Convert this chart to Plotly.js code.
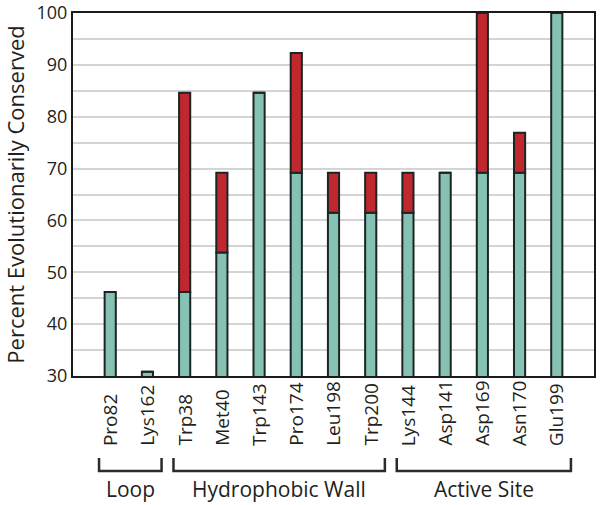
<!DOCTYPE html>
<html>
<head>
<meta charset="utf-8">
<script src="https://cdn.plot.ly/plotly-3.0.1.min.js"></script>
<style>
  body { margin: 0; background: #fff; }
  #chart { width: 600px; height: 505px; }
</style>
</head>
<body>
<div id="chart"></div>
<script>
// residues along the x axis
var residues = ["Pro82", "Lys162", "Trp38", "Met40", "Trp143", "Pro174", "Leu198",
                "Trp200", "Lys144", "Asp141", "Asp169", "Asn170", "Glu199"];

// teal part of each bar (percent conserved)
var conserved = [46.2, 30.8, 46.2, 53.8, 84.6, 69.2, 61.5, 61.5, 61.5, 69.2, 69.2, 69.2, 100];

// top of the red part of each bar (same as teal when there is no red part)
var conservedTotal = [46.2, 30.8, 84.6, 69.2, 84.6, 92.3, 69.2, 69.2, 69.2, 69.2, 100, 76.9, 100];

// groups under the axis: label, first and last residue index
var groupNames = ["Loop", "Hydrophobic Wall", "Active Site"];
var groupStart = [0, 2, 8];
var groupEnd = [1, 7, 12];

var outline = {color: "#1b2624", width: 2};
var textColor = "#231f20";

var redPart = [];
for (var i = 0; i < residues.length; i++) {
  redPart.push(conservedTotal[i] - conserved[i]);
}

var data = [
  {
    type: "bar",
    x: residues,
    y: conserved,
    width: 0.3,
    marker: {color: "#86c2b4", line: outline},
    hoverinfo: "x+y"
  },
  {
    type: "bar",
    x: residues,
    y: redPart,
    base: conserved,
    width: 0.3,
    marker: {color: "#c0272f", line: outline},
    hoverinfo: "x+y"
  }
];

var shapes = [];
var annotations = [];

// residue labels, read bottom to top and lined up at their start like the original
residues.forEach(function(name) {
  annotations.push({
    xref: "x",
    yref: "paper",
    x: name,
    y: -0.198,
    xanchor: "center",
    yanchor: "bottom",
    textangle: -90,
    text: name,
    showarrow: false,
    font: {family: "Open Sans, sans-serif", size: 19, color: textColor}
  });
});

for (var g = 0; g < groupNames.length; g++) {
  var x0 = groupStart[g] - 0.3;
  var x1 = groupEnd[g] + 0.38;
  shapes.push({
    type: "path",
    xref: "x",
    yref: "paper",
    path: "M " + x0 + ",-0.226 L " + x0 + ",-0.262 L " + x1 + ",-0.262 L " + x1 + ",-0.226",
    line: {color: "#2b2b2b", width: 2.5}
  });
  annotations.push({
    xref: "x",
    yref: "paper",
    x: (x0 + x1) / 2,
    y: -0.311,
    xanchor: "center",
    yanchor: "middle",
    text: groupNames[g],
    showarrow: false,
    font: {family: "Open Sans, sans-serif", size: 21, color: textColor}
  });
}

var layout = {
  width: 600,
  height: 505,
  margin: {l: 73, r: 6, t: 13, b: 129, autoexpand: false},
  paper_bgcolor: "#ffffff",
  plot_bgcolor: "#ffffff",
  showlegend: false,
  barmode: "overlay",
  font: {family: "Open Sans, sans-serif", color: textColor},
  xaxis: {
    type: "category",
    range: [-1, 13],
    showticklabels: false,
    showgrid: false,
    showline: true,
    linecolor: "#1a1a1a",
    linewidth: 2,
    mirror: true,
    ticks: ""
  },
  yaxis: {
    range: [30, 100],
    dtick: 10,
    tickfont: {size: 18, color: textColor},
    showgrid: true,
    gridcolor: "#d4d4d4",
    gridwidth: 2,
    minor: {dtick: 5, showgrid: true, gridcolor: "#d4d4d4", gridwidth: 2},
    zeroline: false,
    showline: true,
    linecolor: "#1a1a1a",
    linewidth: 2,
    mirror: true,
    ticks: "",
    title: {
      text: "Percent Evolutionarily Conserved",
      font: {size: 22, color: textColor},
      standoff: 8
    }
  },
  shapes: shapes,
  annotations: annotations
};

Plotly.newPlot("chart", data, layout, {displayModeBar: false, staticPlot: true});
</script>
</body>
</html>
